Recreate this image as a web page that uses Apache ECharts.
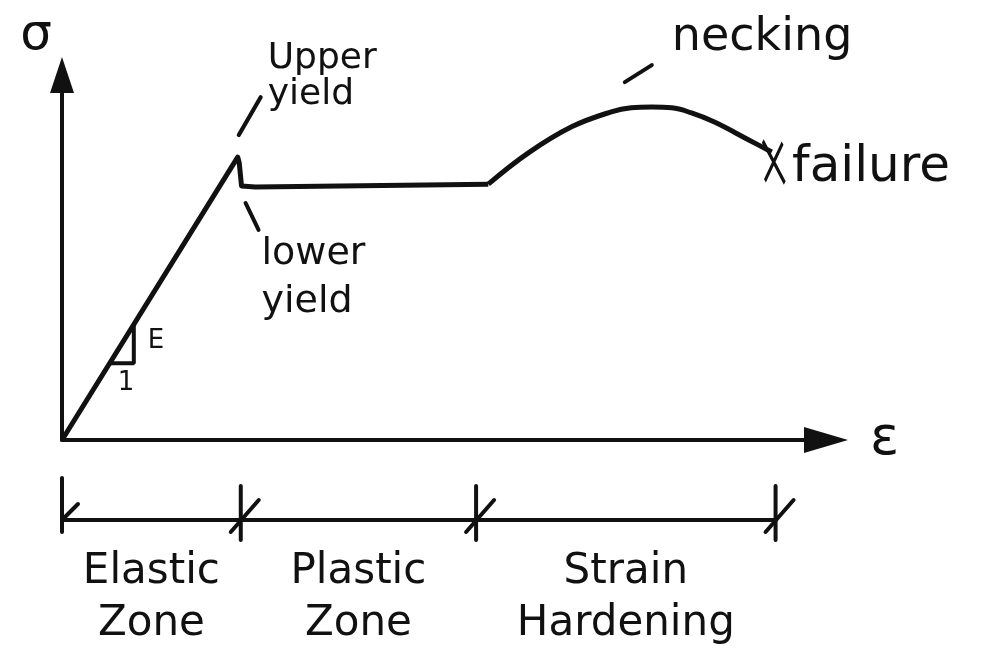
<!DOCTYPE html>
<html>
<head>
<meta charset="utf-8">
<title>Stress-strain sketch</title>
<script src="https://cdn.jsdelivr.net/npm/echarts@6/dist/echarts.min.js"></script>
<style>
  html,body{margin:0;padding:0;background:#fff;}
  #chart{width:995px;height:662px;}
</style>
</head>
<body>
<div id="chart"></div>
<script>
// elastic line, upper / lower yield and the plastic plateau (straight pieces)
const yieldStrain = [0, 23.0, 23.2, 23.5, 25.3, 55.8]
const yieldStress = [0, 77.5, 75.9, 69.6, 69.3, 70.1]
// strain hardening up to necking and failure (smooth piece)
const hardStrain = [55.8, 61.0, 66.7, 71.9, 74.5, 77.2, 79.8, 82.4, 85.4, 89.9, 92.9]
const hardStress = [70.1, 78.6, 85.8, 89.9, 91.0, 91.2, 91.0, 89.6, 87.1, 82.2, 78.9]
// little slope triangle on the elastic line
const slopeStrain = [6.2, 9.4, 9.4]
const slopeStress = [21.0, 21.0, 31.6]
// zones drawn under the strain axis
const zoneEdges = [0, 23.4, 54.2, 93.4]
const zoneNames = ['Elastic\nZone', 'Plastic\nZone', 'Strain\nHardening']

const ink = '#111'
const font = 'DejaVu Sans'

const zip = (a, b) => a.map((v, i) => [v, b[i]])
const zones = zoneNames.map((n, i) => [zoneEdges[i], zoneEdges[i + 1], i])

const chart = echarts.init(document.getElementById('chart'))

const renderZone = (params, api) => {
  const s = api.coord([api.value(0), 0])
  const e = api.coord([api.value(1), 0])
  const y = s[1] + 80
  const idx = api.value(2)
  const line = (x1, y1, x2, y2) => ({
    type: 'line',
    shape: {x1, y1, x2, y2},
    style: {stroke: ink, lineWidth: 4, lineCap: 'round'}
  })
  const kids = [
    line(s[0], y, e[0], y),
    line(e[0], y - 34, e[0], y + 20),
    line(e[0] - 10, y + 12, e[0] + 18, y - 20)
  ]
  if (idx === 0) {
    kids.push(line(s[0], y - 42, s[0], y + 12))
    kids.push(line(s[0], y, s[0] + 16, y - 16))
  }
  kids.push({
    type: 'text',
    style: {
      text: zoneNames[idx],
      x: (s[0] + e[0]) / 2,
      y: y + 26,
      align: 'center',
      verticalAlign: 'top',
      fontSize: 42,
      fontFamily: font,
      lineHeight: 52,
      fill: ink
    }
  })
  return {type: 'group', children: kids}
}

chart.setOption({
  animation: false,
  backgroundColor: '#fff',
  grid: {left: 62, right: 169, top: 75, bottom: 222},
  xAxis: {
    type: 'value', min: 0, max: 100,
    name: 'ε', nameLocation: 'end', nameGap: 44,
    nameTextStyle: {fontSize: 54, color: ink, fontFamily: font},
    axisLine: {
      show: true, symbol: ['none', 'triangle'], symbolSize: [26, 44],
      lineStyle: {color: ink, width: 4}
    },
    axisTick: {show: false}, axisLabel: {show: false}, splitLine: {show: false}
  },
  yAxis: {
    type: 'value', min: 0, max: 100,
    name: 'σ', nameLocation: 'end', nameGap: 14,
    nameTextStyle: {fontSize: 50, color: ink, fontFamily: font, align: 'right', padding: [0, 10, 0, 0]},
    axisLine: {
      show: true, symbol: ['none', 'triangle'], symbolSize: [24, 36],
      lineStyle: {color: ink, width: 4}
    },
    axisTick: {show: false}, axisLabel: {show: false}, splitLine: {show: false}
  },
  series: [
    {
      type: 'line', data: zip(yieldStrain, yieldStress), symbol: 'none',
      lineStyle: {color: ink, width: 5, join: 'round'}
    },
    {
      type: 'line', data: zip(hardStrain, hardStress), symbol: 'none', smooth: 0.4,
      lineStyle: {color: ink, width: 5}
    },
    {
      type: 'line', data: zip(slopeStrain, slopeStress), symbol: 'none',
      lineStyle: {color: ink, width: 4}
    },
    {
      // failure cross at the end of the curve
      type: 'scatter',
      data: [[hardStrain[hardStrain.length - 1], hardStress[hardStress.length - 1]]],
      symbol: 'path://M0,0L20,40M18,2L2,38', symbolSize: [22, 42], symbolOffset: [2, 10],
      itemStyle: {color: 'rgba(0,0,0,0)', borderColor: ink, borderWidth: 3.5, opacity: 1},
      label: {
        show: true, position: 'right', distance: 6, offset: [0, 6],
        formatter: 'failure', fontSize: 50, fontFamily: font, color: ink
      }
    },
    {
      type: 'custom', renderItem: renderZone, data: zones, clip: false,
      encode: {x: [0, 1]}, silent: true
    }
  ]
})

// hand-written notes around the curve, placed from the points they describe
const toPx = (x, y) => chart.convertToPixel({gridIndex: 0}, [x, y])
const note = (x, y, text, size, lh) => ({
  type: 'text', x, y,
  style: {text, fontSize: size, fontFamily: font, fill: ink, lineHeight: lh, align: 'left', verticalAlign: 'top'}
})
const dash = (x1, y1, x2, y2) => ({
  type: 'line', shape: {x1, y1, x2, y2},
  style: {stroke: ink, lineWidth: 4, lineCap: 'round'}
})

const neckIdx = hardStress.indexOf(Math.max(...hardStress))
const upperPt = toPx(yieldStrain[1], yieldStress[1])
const lowerPt = toPx(yieldStrain[3], yieldStress[3])
const neckPt = toPx(hardStrain[neckIdx], hardStress[neckIdx])
const triPt = toPx(slopeStrain[1], slopeStress[1])

chart.setOption({
  graphic: [
    dash(upperPt[0] + 1, upperPt[1] - 22, upperPt[0] + 23, upperPt[1] - 60),
    note(upperPt[0] + 30, upperPt[1] - 116, 'Upper\nyield', 36, 36),
    dash(lowerPt[0] + 4, lowerPt[1] + 17, lowerPt[0] + 17, lowerPt[1] + 44),
    note(lowerPt[0] + 20, lowerPt[1] + 44, 'lower\nyield', 38, 48),
    dash(neckPt[0] - 27, neckPt[1] - 25, neckPt[0], neckPt[1] - 42),
    note(neckPt[0] + 20, neckPt[1] - 94, 'necking', 46, 50),
    note(triPt[0] + 14, triPt[1] - 36, 'E', 26, 28),
    note(triPt[0] - 16, triPt[1] + 6, '1', 26, 28)
  ]
})
</script>
</body>
</html>
